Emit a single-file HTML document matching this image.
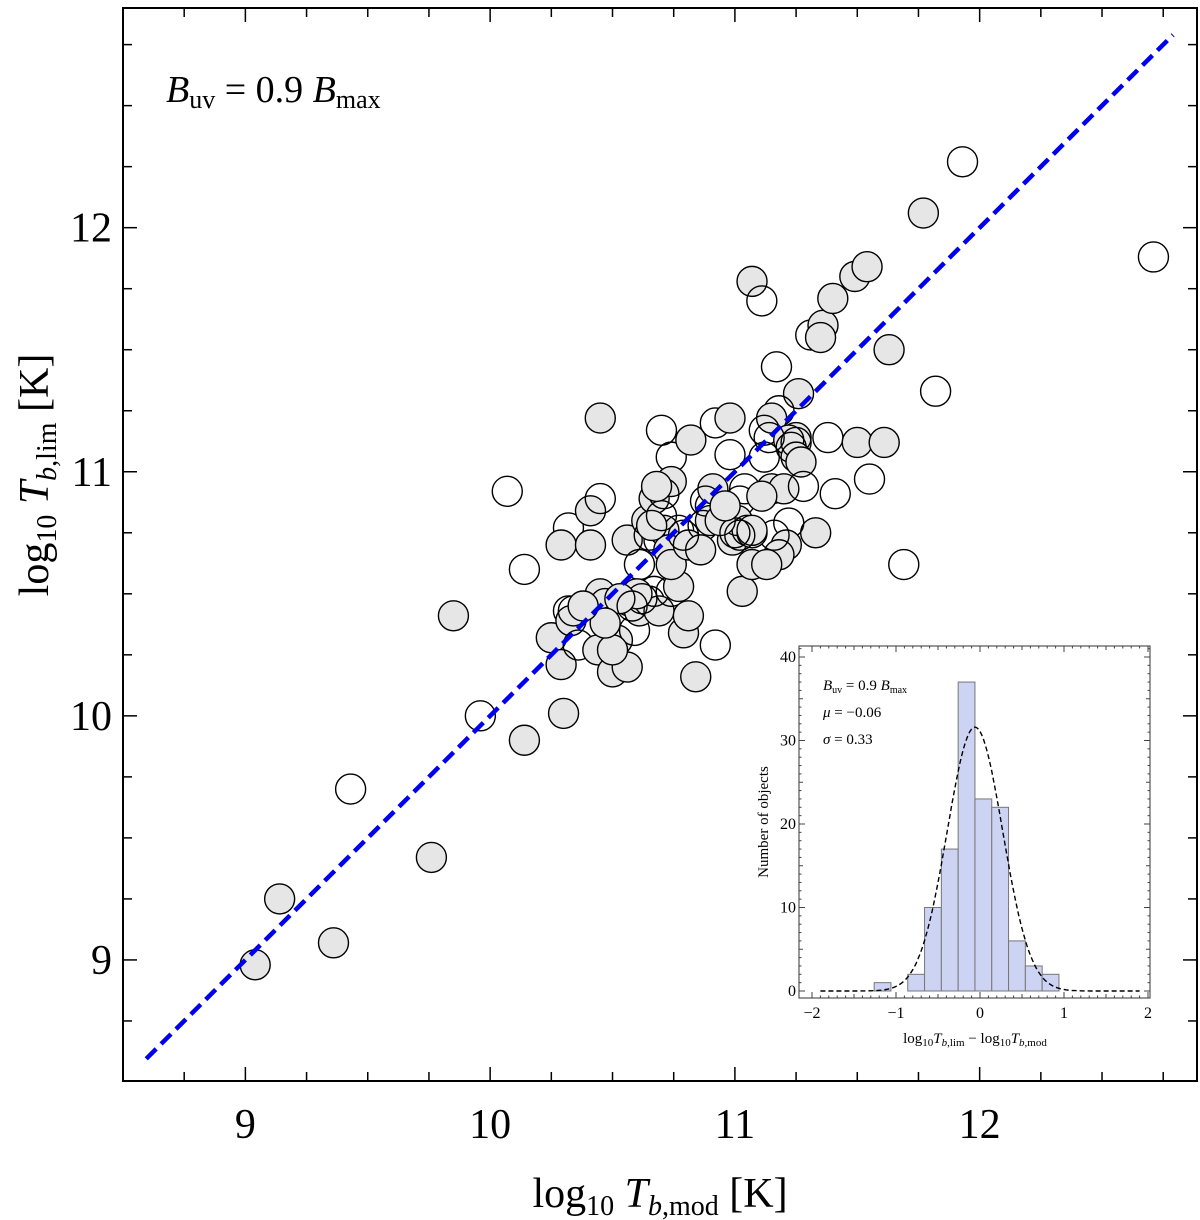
<!DOCTYPE html>
<html><head><meta charset="utf-8"><style>
html,body{margin:0;padding:0;background:#fff;}
svg{display:block;font-family:"Liberation Serif",serif;}
</style></head><body>
<svg id="chart" width="1200" height="1220" viewBox="0 0 1200 1220" xmlns="http://www.w3.org/2000/svg"></svg>
<script>
// main scatter data (x = log10 Tb,mod, y = log10 Tb,lim)
const xVals = [9.04,9.14,9.36,9.43,9.76,9.85,9.96,10.07,10.14,10.14,10.30,10.45,10.32,10.29,10.41,10.41,10.45,10.25,10.29,10.32,10.33,10.36,10.44,10.45,10.47,10.50,10.56,10.52,10.57,10.59,10.61,10.65,10.69,10.67,10.74,10.77,10.79,10.84,10.81,10.92,10.56,10.64,10.65,10.61,10.69,10.67,10.71,10.77,10.73,10.74,10.81,10.70,10.74,10.74,10.71,10.82,10.90,10.90,10.87,10.91,10.98,10.92,10.98,10.88,10.99,11.02,11.04,11.01,11.05,11.03,11.07,11.07,11.11,11.17,11.31,11.36,11.35,11.40,11.49,11.54,11.63,11.77,11.93,12.71,11.82,11.26,11.18,11.15,11.12,11.25,11.22,11.25,11.23,11.38,11.50,11.61,11.55,11.41,11.69,11.33,11.22,11.21,11.18,11.13,11.16,11.07,11.15,11.14,11.20,11.12,11.07,11.11,11.25,11.27,11.28,10.60,10.62,10.50,10.53,10.58,10.47,10.34,10.38,10.66,10.70,10.94,10.86,10.79,10.68,11.00,10.96,11.02];
const yVals = [8.98,9.25,9.07,9.70,9.42,10.41,10.00,10.92,9.90,10.60,10.01,11.22,10.77,10.70,10.70,10.84,10.89,10.32,10.21,10.43,10.39,10.29,10.27,10.50,10.46,10.18,10.20,10.31,10.47,10.35,10.43,10.47,10.43,10.51,10.51,10.53,10.34,10.16,10.41,10.29,10.72,10.80,10.74,10.62,10.72,10.89,10.76,10.76,10.68,10.62,10.70,11.17,11.06,10.96,10.91,11.13,10.86,10.80,10.78,10.93,11.07,11.20,11.22,10.88,10.72,10.88,10.93,10.80,10.76,10.51,10.62,11.78,11.70,11.43,11.56,11.60,11.55,11.71,11.80,11.84,11.50,12.06,12.27,11.88,11.33,11.32,11.25,11.22,11.17,11.14,11.13,11.06,11.10,11.14,11.12,11.12,10.97,10.91,10.62,10.75,10.79,10.70,10.66,10.62,10.74,10.75,10.93,11.14,10.93,11.06,10.76,10.90,11.12,11.04,10.94,10.50,10.48,10.27,10.48,10.45,10.38,10.43,10.45,10.78,10.82,10.80,10.68,10.74,10.94,10.75,10.86,10.74];
const filled = [1,1,1,0,1,1,0,0,1,0,1,1,0,1,1,1,0,1,1,0,1,0,1,1,0,1,1,1,1,0,1,0,1,0,0,1,1,1,1,0,1,1,0,0,0,1,1,0,1,1,1,0,0,1,0,1,0,1,0,1,0,0,1,0,1,0,0,1,0,1,1,1,0,0,0,1,1,1,1,1,1,1,0,0,0,1,0,1,0,1,1,1,0,0,1,1,0,0,0,1,0,1,1,1,0,1,1,0,1,0,1,1,0,1,0,1,0,1,1,0,1,0,1,1,0,1,1,0,1,0,1,0];
const xTicks = [9,10,11,12];
const yTicks = [9,10,11,12];
// inset histogram data
const binStarts = [-1.26,-0.86,-0.66,-0.46,-0.26,-0.06,0.14,0.34,0.54,0.74];
const binCounts = [1,2,10,17,37,23,22,6,3,2];
const binWidth = 0.2;
const gaussMu = -0.06, gaussSigma = 0.33, gaussPeak = 31.6;
const insetXTicks = [-2,-1,0,1,2];
const insetYTicks = [0,10,20,30,40];

const NS="http://www.w3.org/2000/svg";
const svg=document.getElementById('chart');
function mk(tag,attrs,parent){const e=document.createElementNS(NS,tag);for(const k in attrs)e.setAttribute(k,attrs[k]);(parent||svg).appendChild(e);return e;}

// main axes
const L=123,R=1197,T=8,B=1081;
const X0=8.5,X1=12.888,Y0=8.504,Y1=12.9;
const sx=v=>L+(v-X0)/(X1-X0)*(R-L);
const sy=v=>B-(v-Y0)/(Y1-Y0)*(B-T);

const frame=mk('rect',{x:L,y:T,width:R-L,height:B-T,fill:'none',stroke:'#000','stroke-width':2});



const ticksG=mk('g',{stroke:'#000','stroke-width':1.5});


for(let v=8.75;v<=12.76;v+=0.25){
  const len=Math.abs(v-Math.round(v))<1e-6?14:9;
  const x=sx(v);
  mk('line',{x1:x,y1:B,x2:x,y2:B-len},ticksG);
  mk('line',{x1:x,y1:T,x2:x,y2:T+len},ticksG);
}
for(let v=8.75;v<=12.76;v+=0.25){
  const len=Math.abs(v-Math.round(v))<1e-6?14:9;
  const y=sy(v);
  mk('line',{x1:L,y1:y,x2:L+len,y2:y},ticksG);
  mk('line',{x1:R,y1:y,x2:R-len,y2:y},ticksG);
}
xTicks.forEach(v=>{
  const t=mk('text',{x:sx(v),y:1138,'font-size':42,'text-anchor':'middle'});
  t.textContent=v;
  
  
});
yTicks.forEach(v=>{
  const t=mk('text',{x:112,y:sy(v)+14,'font-size':42,'text-anchor':'end'});
  t.textContent=v;
  
  
});

// points
const ptsG=mk('g',{});


xVals.forEach((xv,i)=>{
  const c=mk('circle',{cx:sx(xv),cy:sy(yVals[i]),r:15,fill:filled[i]?'#e6e6e6':'#fff','fill-opacity':filled[i]?1:0,stroke:'#000','stroke-width':1.4},ptsG);
  
  
});

// one-to-one line
const diag=mk('line',{x1:sx(8.595),y1:sy(8.595),x2:sx(12.79),y2:sy(12.79),stroke:'#0000ee','stroke-width':4.5,'stroke-dasharray':'14 7'});



// title annotation
const ann=mk('text',{x:166,y:102,'font-size':38});
ann.innerHTML='<tspan font-style="italic">B</tspan><tspan font-size="26" dy="6">uv</tspan><tspan dy="-6"> = 0.9 </tspan><tspan font-style="italic">B</tspan><tspan font-size="26" dy="6">max</tspan>';



// axis titles
const xt=mk('text',{x:660,y:1207,'font-size':42,'text-anchor':'middle'});
xt.innerHTML='log<tspan font-size="28" dy="8">10</tspan><tspan dy="-8" font-style="italic"> T</tspan><tspan font-size="28" dy="8"><tspan font-style="italic">b</tspan>,mod</tspan><tspan dy="-8"> [K]</tspan>';


const yt=mk('text',{x:0,y:0,'font-size':42,'text-anchor':'middle',transform:'translate(48,475) rotate(-90)'});
yt.innerHTML='log<tspan font-size="28" dy="8">10</tspan><tspan dy="-8" font-style="italic"> T</tspan><tspan font-size="28" dy="8"><tspan font-style="italic">b</tspan>,lim</tspan><tspan dy="-8"> [K]</tspan>';



// inset
const iL=799,iR=1150,iT=646,iB=998;
const ix=v=>980+v*84;
const iy=v=>991-v*8.35;
const inset=mk('g',{});


mk('rect',{x:iL,y:iT,width:iR-iL,height:iB-iT,fill:'#fff',stroke:'#555','stroke-width':1.2},inset);
binStarts.forEach((s,i)=>{
  const b=mk('rect',{x:ix(s),y:iy(binCounts[i]),width:ix(s+binWidth)-ix(s),height:iy(0)-iy(binCounts[i]),fill:'#ccd3f3',stroke:'#777','stroke-width':1},inset);
  
  
});
let d='';
for(let v=-1.9;v<=1.9001;v+=0.02){
  const g=gaussPeak*Math.exp(-0.5*Math.pow((v-gaussMu)/gaussSigma,2));
  d+=(d?'L':'M')+ix(v).toFixed(1)+','+iy(g).toFixed(1);
}
const gp=mk('path',{d:d,fill:'none',stroke:'#000','stroke-width':1.4,'stroke-dasharray':'5 3'},inset);


const itg=mk('g',{stroke:'#444','stroke-width':1},inset);
for(let v=-2;v<=2.001;v+=0.1){
  const maj=Math.abs(v*2-Math.round(v*2))<1e-6?(Math.abs(v-Math.round(v))<1e-6?6:4):2.5;
  const x=ix(v);
  if(x<iL||x>iR)continue;
  mk('line',{x1:x,y1:iB,x2:x,y2:iB-maj},itg);
  mk('line',{x1:x,y1:iT,x2:x,y2:iT+maj},itg);
}
for(let v=0;v<=41;v+=1){
  const maj=v%10===0?6:(v%5===0?4:2.5);
  const y=iy(v);
  if(y<iT)continue;
  mk('line',{x1:iL,y1:y,x2:iL+maj,y2:y},itg);
  mk('line',{x1:iR,y1:y,x2:iR-maj,y2:y},itg);
}
insetXTicks.forEach(v=>{
  const t=mk('text',{x:ix(v),y:1018,'font-size':16,'text-anchor':'middle'},inset);
  t.textContent=v<0?'\u2212'+(-v):v;
  
  
});
insetYTicks.forEach(v=>{
  const t=mk('text',{x:796,y:iy(v)+5,'font-size':16,'text-anchor':'end'},inset);
  t.textContent=v;
  
  
});
const ixt=mk('text',{x:975,y:1043,'font-size':15,'text-anchor':'middle'},inset);
ixt.innerHTML='log<tspan font-size="11" dy="3">10</tspan><tspan dy="-3" font-style="italic">T</tspan><tspan font-size="11" dy="3"><tspan font-style="italic">b</tspan>,lim</tspan><tspan dy="-3"> \u2212 log</tspan><tspan font-size="11" dy="3">10</tspan><tspan dy="-3" font-style="italic">T</tspan><tspan font-size="11" dy="3"><tspan font-style="italic">b</tspan>,mod</tspan>';


const iyt=mk('text',{x:0,y:0,'font-size':15,'text-anchor':'middle',transform:'translate(768,822) rotate(-90)'},inset);
iyt.textContent='Number of objects';


const lines=[
 '<tspan font-style="italic">B</tspan><tspan font-size="10" dy="3">uv</tspan><tspan dy="-3"> = 0.9 </tspan><tspan font-style="italic">B</tspan><tspan font-size="10" dy="3">max</tspan>',
 '<tspan font-style="italic">\u03bc</tspan> = \u22120.06',
 '<tspan font-style="italic">\u03c3</tspan> = 0.33'];
lines.forEach((h,i)=>{
  const t=mk('text',{x:823,y:690+i*27,'font-size':15},inset);
  t.innerHTML=h;
  
  
});
</script>
</body></html>
